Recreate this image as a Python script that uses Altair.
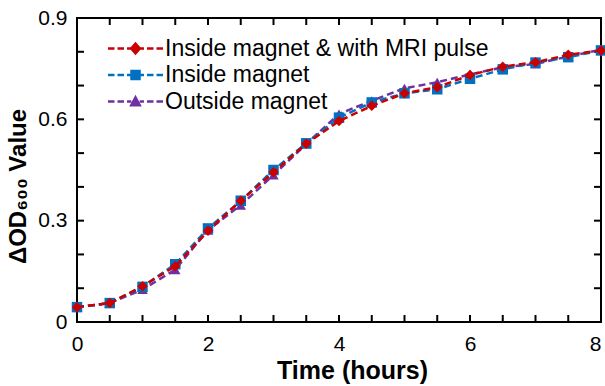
import altair as alt
import pandas as pd

# ---- data ----
time_h = [0, 0.5, 1, 1.5, 2, 2.5, 3, 3.5, 4, 4.5, 5, 5.5, 6, 6.5, 7, 7.5, 8]
series_names = ["Inside magnet & with MRI pulse", "Inside magnet", "Outside magnet"]
mri_pulse = [0.044, 0.056, 0.106, 0.165, 0.270, 0.359, 0.443, 0.528, 0.595, 0.640,
             0.677, 0.695, 0.731, 0.756, 0.769, 0.791, 0.804]
inside = [0.044, 0.056, 0.104, 0.171, 0.277, 0.359, 0.450, 0.529, 0.605, 0.650,
          0.677, 0.689, 0.720, 0.748, 0.768, 0.784, 0.804]
outside = [0.044, 0.056, 0.096, 0.155, 0.272, 0.346, 0.435, 0.527, 0.616, 0.655,
           0.692, 0.710, 0.733, 0.754, 0.764, 0.786, 0.806]
x_labels = [0, 2, 4, 6, 8]
y_labels = [0, 0.3, 0.6, 0.9]
x_minor = [i * 0.5 for i in range(17)]
y_minor = [round(i * 0.1, 1) for i in range(10)]

colors = ["#CC0000", "#0070C0", "#7030A0"]
shapes = ["diamond", "square", "triangle-up"]

rows = []
for name, vals in zip(series_names, [mri_pulse, inside, outside]):
    for t, v in zip(time_h, vals):
        rows.append({"time": t, "od": v, "series": name})
df = pd.DataFrame(rows)
xt_df = pd.DataFrame({"t": x_minor})
yt_df = pd.DataFrame({"v": y_minor})

W, H = 524, 304
FONT = "Liberation Sans"
X_TITLE = "Time (hours)"
Y_TITLE = "ΔOD₆₀₀ Value"

# ---- legend symbol paths: dashes + marker (units of 7 px) ----
def dashes():
    segs = [(-3.93, -3.0), (-2.57, -1.64), (-1.21, -0.6), (0.6, 1.21), (1.64, 2.57), (3.0, 3.93)]
    h = 0.18
    return "".join(f"M{a},{-h}L{b},{-h}L{b},{h}L{a},{h}Z" for a, b in segs)

marker_paths = [
    "M0,-0.95L0.85,0L0,0.95L-0.85,0Z",
    "M-0.75,-0.75L0.75,-0.75L0.75,0.75L-0.75,0.75Z",
    "M0,-0.95L0.9,0.7L-0.9,0.7Z",
]
legend_paths = [dashes() + m for m in marker_paths]
shape_expr = (
    f"datum.value === '{series_names[0]}' ? '{legend_paths[0]}' : "
    f"(datum.value === '{series_names[1]}' ? '{legend_paths[1]}' : '{legend_paths[2]}')"
)

x_scale = alt.Scale(domain=[0, 8], nice=False)
y_scale = alt.Scale(domain=[0, 0.9], nice=False)
color_scale = alt.Scale(domain=series_names, range=colors)

legend = alt.Legend(
    title=None, orient="none", legendX=47, legendY=19, padding=0,
    labelFont=FONT, labelFontSize=23, labelColor="black", labelOffset=18,
    rowPadding=2.5, symbolSize=196, symbolStrokeWidth=0, labelLimit=500,
    symbolOpacity=1, symbolType=alt.ExprRef(shape_expr),
    symbolFillColor=alt.ExprRef("scale('color', datum.value)"),
)

x_axis = alt.Axis(
    orient="bottom", values=x_labels, ticks=False, domain=False, grid=False,
    format="d", labelFlush=False,
    labelAlign=alt.ExprRef("datum.value == 8 ? 'right' : 'center'"),
    labelPadding=11, labelFont=FONT, labelFontSize=21, labelColor="black",
    titleFont=FONT, titleFontSize=25, titleFontWeight="bold",
    titleColor="black", titlePadding=4, titleX=275)
y_axis = alt.Axis(
    orient="left", values=y_labels, ticks=False, domain=False, grid=False,
    labelExpr="datum.value == 0 ? '0' : format(datum.value, '.1f')", labelFlush=False,
    labelPadding=10, labelFont=FONT, labelFontSize=21, labelColor="black",
    titleFont=FONT, titleFontSize=24, titleFontWeight="bold",
    titleColor="black", titlePadding=7, titleY=168)

base = alt.Chart(df)

# inward ticks on all four edges (tick marks clipped at the frame)
tick_layers = []
for yv in [0, 0.9]:
    tick_layers.append(alt.Chart(xt_df).mark_tick(
        orient="vertical", size=14, thickness=2, color="black", clip=True, opacity=1
    ).encode(x=alt.X("t:Q", scale=x_scale, axis=x_axis, title=X_TITLE),
             y=alt.YDatum(yv, scale=y_scale, axis=y_axis, title=Y_TITLE)))
for xv in [0, 8]:
    tick_layers.append(alt.Chart(yt_df).mark_tick(
        orient="horizontal", size=14, thickness=2, color="black", clip=True, opacity=1
    ).encode(y=alt.Y("v:Q", scale=y_scale, axis=y_axis, title=Y_TITLE),
             x=alt.XDatum(xv, scale=x_scale, axis=x_axis, title=X_TITLE)))

layers = []
# draw purple first, red last (red on top)
for i in [2, 1, 0]:
    name = series_names[i]
    sub = base.transform_filter(alt.datum.series == name)
    enc = dict(
        x=alt.X("time:Q", scale=x_scale, axis=x_axis, title=X_TITLE),
        y=alt.Y("od:Q", scale=y_scale, axis=y_axis, title=Y_TITLE),
        color=alt.Color("series:N", scale=color_scale, legend=legend),
    )
    line = sub.mark_line(strokeDash=[7, 4], strokeWidth=2.5).encode(**enc)
    pts = sub.mark_point(filled=True, size=110, opacity=1, strokeWidth=0,
                         shape=shapes[i]).encode(**enc)
    layers += [line, pts]

chart = alt.layer(*tick_layers, *layers).properties(
    width=W, height=H,
    autosize=alt.AutoSizeParams(type="none"),
    padding={"left": 77, "top": 18, "right": 4, "bottom": 64},
    background="white",
).configure_view(stroke="black", strokeWidth=2)

chart.save("out.html", embed_options={"renderer": "svg", "actions": False})
